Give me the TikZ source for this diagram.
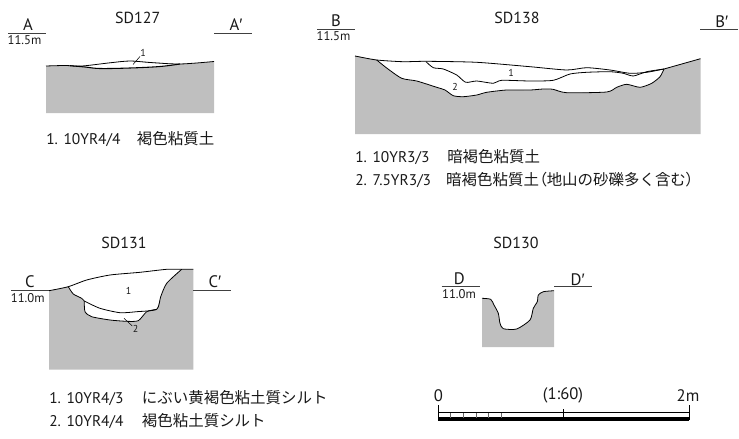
\documentclass[tikz,border=0pt]{standalone}
\usepackage{fontspec}
\setmainfont{PT Sans}
\newfontfamily\jp{Noto Sans CJK JP}
\newfontfamily\jpp[RawFeature=+palt]{Noto Sans CJK JP}
\newfontfamily\prm{Liberation Sans}
\newcommand{\pmark}{{\prm ′}}
\newcommand{\ltx}[2]{\makebox[#1pt][l]{#2}}
\def\bsurf{(355,56)(376.7,60)(403,61.7)(426.7,61.3)(476.7,62.3)(530,66.7)(566.7,70)(586.7,67.7)(610,70)(630,73.3)(646.7,72.3)(664,69)}
\def\bbot{(376.7,60)(386.7,68)(401.7,78.3)(416.7,81)(436.7,87.3)(445,90)(453.3,95.7)(463.3,96.7)(476.7,95)(486.7,92.3)(506.7,90)(530,90)(543.3,89)(553,89.3)(566.7,92.7)(606.7,92)(616.7,87.3)(626.7,84.3)(640,87.3)(651.7,83.3)(660,76.7)(664,69)}
\def\bmid{(426,61.7)(433.3,67.7)(443.3,69)(456.7,75)(465.7,82.3)(476.7,81)(493.3,83.3)(501.7,80.3)(530,81)(553.3,80.3)(570,74)(586.7,72.3)(610,71.7)(623.3,73.3)(633.3,76)(646.7,71.7)(664,69)}
\def\csurf{(49,290.7)(68.3,286.7)(86.7,280)(110,275)(140,272.3)(166.7,269.3)(181.7,269.3)(193.3,269.3)}
\def\ccut{(68.3,286.7)(73.3,294)(81.7,298.3)(84.3,301)(100,308.3)(120,312.7)(136.7,311.7)(156.7,309.3)(160.7,296.7)(166.7,283.3)(181.7,269.3)}
\def\cbot{(84.3,301)(85,311.7)(91.7,316.7)(110,320)(126.7,321.3)(138.3,320.7)(146.7,311.7)(156.7,309.3)}
\def\dprof{(482,298.3)(490.7,299.3)(494,305)(498.3,313.3)(500,323.3)(503.3,328.7)(516.7,329)(530,320)(533.3,308.3)(537.3,301.7)(538.3,295)(543.3,291.7)(554,290.7)}
\tikzset{
 x=0.75pt,y=-0.75pt,
 ground/.style={fill=black!25,draw=none},
 prof/.style={draw=black,line width=0.6pt,line join=round},
 lead/.style={draw=black,line width=0.4pt},
 lev/.style={draw=black!75,line width=0.7pt},
 lab/.style={inner sep=0pt,font=\fontsize{12.5pt}{14pt}\selectfont,text=black!90},
 small/.style={inner sep=0pt,font=\fontsize{9.5pt}{11pt}\selectfont,text=black!90},
 tiny/.style={inner sep=0pt,font=\fontsize{7.5pt}{9pt}\selectfont,text=black!90},
 title/.style={inner sep=0pt,font=\fontsize{12pt}{14pt}\selectfont,text=black!90},
 txt/.style={inner sep=0pt,anchor=west,font=\fontsize{11.6pt}{14pt}\selectfont,text=black!90},
 scl/.style={draw=black,line width=.6pt},
}
\begin{document}
\begin{tikzpicture}
\useasboundingbox (0,0) rectangle (739,439);
% A
\fill[ground] plot[smooth,tension=.4] coordinates {(46,66)(85,66)(130,61)(180,64)(214,61.5)} -- (214,113) -- (46,113) -- cycle;
\fill[white] plot[smooth,tension=.6] coordinates {(82,66)(110,62.8)(130,61)(150,62.5)(180,64)} -- plot[smooth,tension=.6] coordinates {(180,64)(160,66.5)(130,68)(100,68.5)(82,66)} -- cycle;
\draw[prof] plot[smooth,tension=.5] coordinates {(46,66)(65,65.5)(82,66)(110,62.8)(130,61)(150,62.5)(180,64)(214,61.5)};
\draw[prof,line width=.8pt] plot[smooth,tension=.6] coordinates {(70,65.7)(85,67)(100,68.5)(130,68)(160,66.5)(180,64)};
\coordinate (a1) at (133,64.5); \coordinate (a2) at (140,56.5);
\draw[lead] (a1) -- (a2);
\node[tiny] (n1) at (143,53) {1};
\coordinate (la1) at (8,33.3); \coordinate (la2) at (46,33.3);
\coordinate (la3) at (214,33.3); \coordinate (la4) at (252,33.3);
\draw[lev] (la1) -- (la2); \draw[lev] (la3) -- (la4);
\node[lab] (A) at (28,25) {A};
\node[small] (Ah) at (24.5,40.5) {11.5m};
\node[lab] (Ap) at (236,25) {A\pmark};
\node[title] (t1) at (137.7,18.3) {SD127};
\node[txt] (l1) at (46,139.5) {\ltx{68}{1. 10YR4/4}{\jp 褐色粘質土}};
% B
\fill[ground] plot[smooth,tension=.4] coordinates {\bsurf} -- (700.5,58.7) -- (700.5,134) -- (355,134) -- cycle;
\fill[white] plot[smooth,tension=.4] coordinates {(376.7,60)(403,61.7)(426.7,61.3)(476.7,62.3)(530,66.7)(566.7,70)(586.7,67.7)(610,70)(630,73.3)(646.7,72.3)(664,69)} -- plot[smooth,tension=.4] coordinates {(664,69)(660,76.7)(651.7,83.3)(640,87.3)(626.7,84.3)(616.7,87.3)(606.7,92)(566.7,92.7)(553,89.3)(543.3,89)(530,90)(506.7,90)(486.7,92.3)(476.7,95)(463.3,96.7)(453.3,95.7)(445,90)(436.7,87.3)(416.7,81)(401.7,78.3)(386.7,68)(376.7,60)} -- cycle;
\draw[prof] plot[smooth,tension=.4] coordinates {\bsurf} -- (700.5,58.7);
\draw[prof] plot[smooth,tension=.4] coordinates {\bbot};
\draw[prof] plot[smooth,tension=.4] coordinates {\bmid};
\node[tiny] (n2) at (511,73) {1};
\node[tiny] (n3) at (455,86.7) {2};
\coordinate (lb1) at (317,29); \coordinate (lb2) at (355,29);
\coordinate (lb3) at (700,29); \coordinate (lb4) at (738,29);
\draw[lev] (lb1) -- (lb2); \draw[lev] (lb3) -- (lb4);
\node[lab] (B) at (336,21) {B};
\node[small] (Bh) at (333.5,36.5) {11.5m};
\node[lab] (Bp) at (721.7,22) {B\pmark};
\node[title] (t2) at (517,18.3) {SD138};
\node[txt] (l2) at (355,156.7) {\ltx{69}{1. 10YR3/3}{\jp 暗褐色粘質土}};
\node[txt] (l3) at (355,180) {\ltx{68.2}{2. 7.5YR3/3}{\jp 暗褐色粘質土}{\jpp （}{\jp 地山の砂礫多く含む}{\jpp ）}};
% C
\fill[ground] plot[smooth,tension=.4] coordinates {\csurf} -- (193.3,369.5) -- (49,369.5) -- cycle;
\fill[white] plot[smooth,tension=.4] coordinates {(68.3,286.7)(86.7,280)(110,275)(140,272.3)(166.7,269.3)(181.7,269.3)} -- plot[smooth,tension=.4] coordinates {(181.7,269.3)(166.7,283.3)(160.7,296.7)(156.7,309.3)} -- plot[smooth,tension=.4] coordinates {(156.7,309.3)(146.7,311.7)(138.3,320.7)(126.7,321.3)(110,320)(91.7,316.7)(85,311.7)(84.3,301)} -- plot[smooth,tension=.4] coordinates {(84.3,301)(81.7,298.3)(73.3,294)(68.3,286.7)} -- cycle;
\draw[prof] plot[smooth,tension=.4] coordinates {\csurf};
\draw[prof] plot[smooth,tension=.4] coordinates {\ccut};
\draw[prof] plot[smooth,tension=.4] coordinates {\cbot};
\coordinate (c1) at (124,318.3); \coordinate (c2) at (132.3,326);
\draw[lead] (c1) -- (c2);
\node[tiny] (n4) at (135.7,329.3) {2};
\node[tiny] (n5) at (128.7,291) {1};
\coordinate (lc1) at (11,290); \coordinate (lc2) at (49,290);
\coordinate (lc3) at (193,290); \coordinate (lc4) at (231,290);
\draw[lev] (lc1) -- (lc2); \draw[lev] (lc3) -- (lc4);
\node[lab] (C) at (30,282) {C};
\node[small] (Ch) at (27.7,297.7) {11.0m};
\node[lab] (Cp) at (215,282) {C\pmark};
\node[title] (t3) at (124,242.8) {SD131};
\node[txt] (l4) at (49,398.3) {\ltx{69.5}{1. 10YR4/3}{\jp にぶい黄褐色粘土質シルト}};
\node[txt] (l5) at (49,420.7) {\ltx{69.5}{2. 10YR4/4}{\jp 褐色粘土質シルト}};
% D
\fill[ground] plot[smooth,tension=.4] coordinates {\dprof} -- (554,347) -- (482,347) -- cycle;
\draw[prof] plot[smooth,tension=.4] coordinates {\dprof};
\coordinate (ld1) at (441.7,286.7); \coordinate (ld2) at (480,286.7);
\coordinate (ld3) at (554,286.7); \coordinate (ld4) at (592,286.7);
\draw[lev] (ld1) -- (ld2); \draw[lev] (ld3) -- (ld4);
\node[lab] (D) at (459.3,278.3) {D};
\node[small] (Dh) at (459,294.5) {11.0m};
\node[lab] (Dp) at (577.7,280) {D\pmark};
\node[title] (t4) at (516,243.3) {SD130};
% scale
\coordinate (s0) at (438.2,419); \coordinate (s1) at (689,419);
\draw[black,line width=2.4pt] (s0) -- (s1);
\draw[black,line width=.5pt] (438.2,412.7) -- (689,412.7);
\draw[scl] (438.2,405) -- (438.2,420);
\draw[scl] (563.5,409) -- (563.5,419);
\draw[scl] (689,405) -- (689,420);
\foreach \x in {450.7,463.3,476,488.3,501} \draw[black!60,line width=.5pt] (\x,413) -- (\x,418);
\node[lab] (s0t) at (438.5,395.5) {0};
\node[lab] (s1t) at (563,395.5) {(1:60)};
\node[lab] (s2t) at (688,395.5) {2m};
\end{tikzpicture}
\end{document}
